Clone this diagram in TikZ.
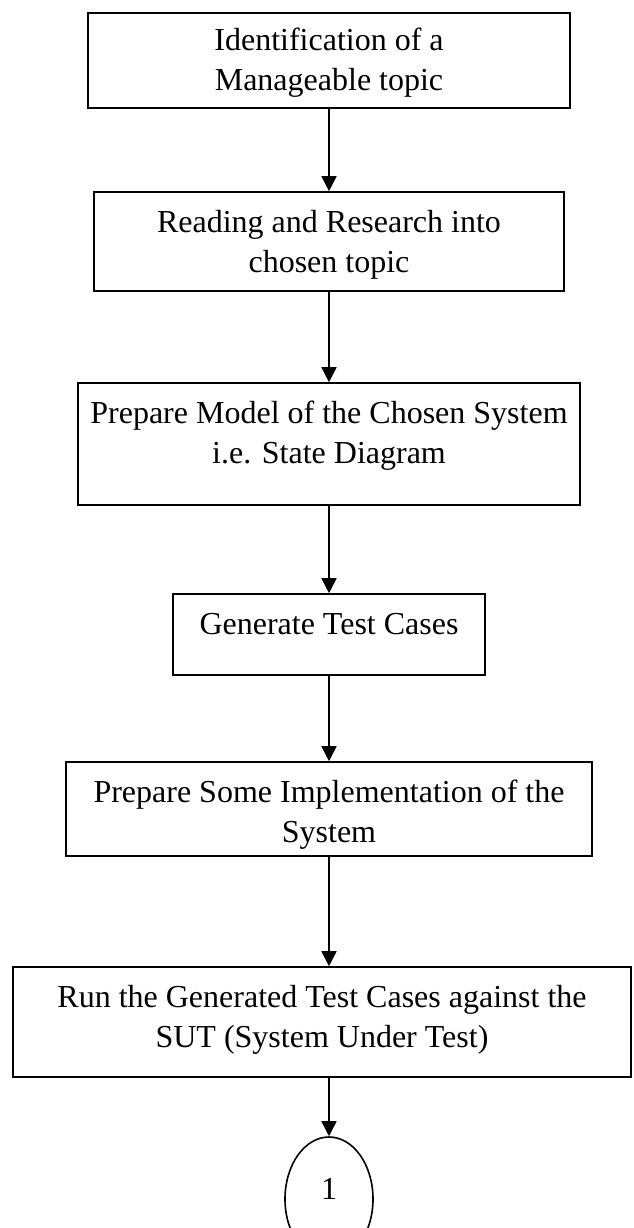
\documentclass[tikz,border=0pt]{standalone}
\usepackage{fontspec}
\setmainfont{Liberation Serif}
\usetikzlibrary{arrows.meta}
\usetikzlibrary{shapes.geometric}
\usetikzlibrary{positioning}

\begin{document}
\begin{tikzpicture}[x=1pt, y=-1pt, >={Triangle[width=15pt,length=15pt]}, line width=1.6pt,
    stepbox/.style={draw, rectangle, inner sep=0pt},
    steptext/.style={anchor=north, align=center, inner sep=0pt, font=\fontsize{32}{40}\selectfont}]
    \clip (0,0) rectangle (633,1228);
    \foreach \i/\l/\r/\t/\b/\pad/\txt in {1/88/570/13/108/15/{Identification of a\\Manageable topic},
        2/94/564/192/291/18/{Reading and Research into\\chosen topic},
        3/78/580/383/505/18/{Prepare Model of the Chosen System\\i.e. State Diagram},
        4/173/485/594/675/19/{Generate Test Cases},
        5/66/592/762/856/18/{Prepare Some Implementation of the\\System},
        6/13/631/967/1077/18/{Run the Generated Test Cases against the\\SUT (System Under Test)}}
    {\node[stepbox, minimum width={(\r-\l)*1pt}, minimum height={(\b-\t)*1pt}](b\i) at ({(\l+\r)/2},{(\t+\b)/2}) {};
    \node[steptext](t\i) at ([yshift=-\pad pt]b\i.north) {\txt};}
    \node[draw, ellipse, minimum width=88pt, minimum height=124pt, inner sep=0pt, font=\fontsize{32}{40}\selectfont](end) at (329,1199) {\raisebox{20pt}{1}};
    \foreach \i in {1, 2, ..., 5}
    {\pgfmathtruncatemacro{\j}{\i + 1}
    \draw[->](b\i.south) -- (b\i.south |- b\j.north);}
    \draw[->](b6.south -| end.north) -- (end.north);
\end{tikzpicture}
\end{document}
